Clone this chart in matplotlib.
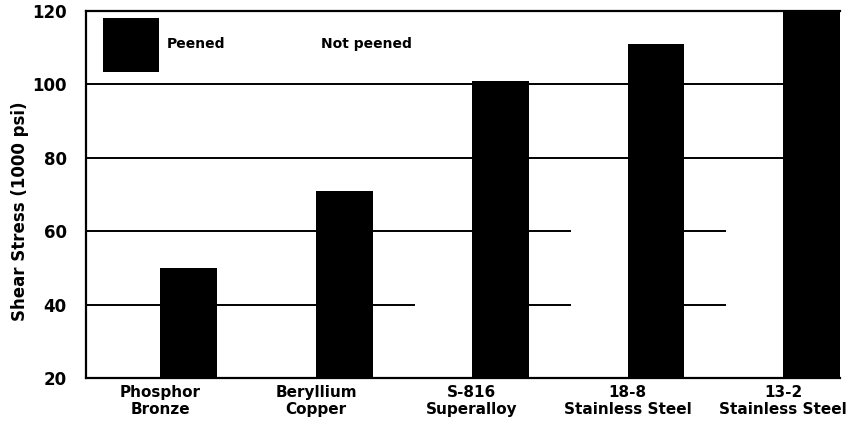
import numpy as np
import matplotlib
matplotlib.use('Agg')
import matplotlib.pyplot as plt

# data
materials = ['Phosphor\nBronze', 'Beryllium\nCopper', 'S-816\nSuperalloy',
             '18-8\nStainless Steel', '13-2\nStainless Steel']
peened = [50, 71, 101, 111, 122]
not_peened = [36, 38, 55, 70, 74]
y_ticks = [20, 40, 60, 80, 100, 120]

plt.rcParams['font.family'] = 'DejaVu Sans'

fig = plt.figure(figsize=(8.53, 4.33), dpi=100)
ax = fig.add_axes([0.101, 0.127, 0.884, 0.848])

x = np.arange(len(materials))
w = 0.365

# grid lines first, bars on top so the white bars cut them
for yv in y_ticks[1:-1]:
    ax.axhline(yv, color='black', lw=1.4, zorder=1)

b_np = ax.bar(x - w/2, np.array(not_peened) - 20, w, bottom=20,
              color='white', edgecolor='none', zorder=2, label='Not peened')
b_p = ax.bar(x + w/2, np.array(peened) - 20, w, bottom=20,
             color='black', edgecolor='none', zorder=3, label='Peened')

ax.set_xlim(-0.476, 4 + w)
ax.set_ylim(20, 120)
ax.set_yticks(y_ticks)
ax.set_yticklabels([str(v) for v in y_ticks], fontsize=12, fontweight='bold')
ax.set_xticks(x)
ax.set_xticklabels(materials, fontsize=11, fontweight='bold', linespacing=1.2)
ax.tick_params(axis='both', length=0)
ax.tick_params(axis='y', pad=14)
ax.tick_params(axis='x', pad=5)

ax.set_ylabel('Shear Stress (1000 psi)', fontsize=12, fontweight='bold')
ax.yaxis.set_label_coords(-0.076, 0.455)

for s in ['left', 'bottom', 'top']:
    ax.spines[s].set_linewidth(1.6)
    ax.spines[s].set_zorder(4)
ax.spines['right'].set_visible(False)

leg = ax.legend(handles=[b_p, b_np], loc='upper left', ncol=2, frameon=False,
                bbox_to_anchor=(0.0225, 0.981), borderpad=0, borderaxespad=0,
                handlelength=4.0, handleheight=5.6, handletextpad=0.6,
                columnspacing=2.3, fontsize=10)
for t in leg.get_texts():
    t.set_fontweight('bold')

fig.savefig('out.png', dpi=100)
